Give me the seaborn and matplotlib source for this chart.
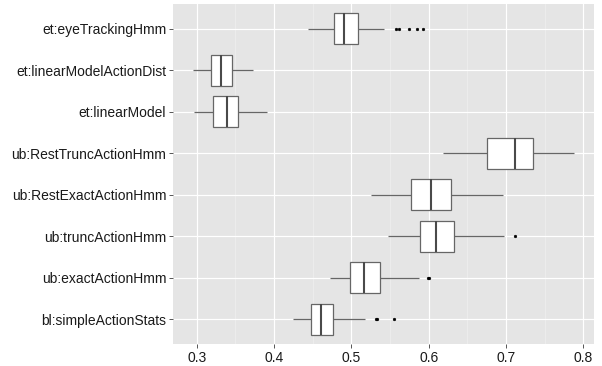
import numpy as np
import pandas as pd
import matplotlib
matplotlib.use("Agg")
import matplotlib.pyplot as plt
import seaborn as sns
from matplotlib.ticker import MultipleLocator

categories = [
    "et:eyeTrackingHmm",
    "et:linearModelActionDist",
    "et:linearModel",
    "ub:RestTruncActionHmm",
    "ub:RestExactActionHmm",
    "ub:truncActionHmm",
    "ub:exactActionHmm",
    "bl:simpleActionStats",
]

eye_tracking_hmm = [0.444, 0.452, 0.458, 0.463, 0.468, 0.473, 0.477, 0.480, 0.483,
                    0.486, 0.488, 0.490, 0.491, 0.494, 0.497, 0.500, 0.503, 0.506,
                    0.508, 0.542, 0.558, 0.562, 0.574, 0.585, 0.592]
linear_model_action_dist = [0.295, 0.318, 0.331, 0.345, 0.373]
linear_model = [0.297, 0.3215, 0.339, 0.354, 0.391]
rest_trunc_action_hmm = [0.6185, 0.676, 0.712, 0.735, 0.788]
rest_exact_action_hmm = [0.525, 0.5775, 0.6025, 0.6285, 0.6965]
trunc_action_hmm = [0.547, 0.570, 0.589, 0.600, 0.609, 0.620, 0.633, 0.697, 0.711]
exact_action_hmm = [0.473, 0.482, 0.491, 0.4986, 0.505, 0.511, 0.516, 0.523, 0.530,
                    0.5366, 0.5875, 0.599, 0.6005]
simple_action_stats = [0.4245, 0.430, 0.437, 0.443, 0.4482, 0.452, 0.455, 0.458, 0.4607,
                       0.464, 0.468, 0.472, 0.4767, 0.5176, 0.5315, 0.533, 0.5555]

samples = [eye_tracking_hmm, linear_model_action_dist, linear_model, rest_trunc_action_hmm,
           rest_exact_action_hmm, trunc_action_hmm, exact_action_hmm, simple_action_stats]

x_ticks = [0.3, 0.4, 0.5, 0.6, 0.7, 0.8]
x_tick_labels = ["0.3", "0.4", "0.5", "0.6", "0.7", "0.8"]

rows = []
for cat, vals in zip(categories, samples):
    for v in vals:
        rows.append({"model": cat, "value": v})
df = pd.DataFrame(rows)

plt.rcParams["font.family"] = ["Liberation Sans", "DejaVu Sans"]

fig = plt.figure(figsize=(6.02, 3.66), dpi=100)
ax = fig.add_axes([0.2879, 0.0601, 0.9867 - 0.2879, 0.989 - 0.0601])
ax.set_facecolor("#E5E5E5")

sns.boxplot(data=df, x="value", y="model", order=categories, orient="h",
            width=0.75, color="white", linecolor="#666666", linewidth=0.9,
            whis=1.5, saturation=1, showcaps=False,
            medianprops=dict(color="#4a4a4a", linewidth=1.5),
            flierprops=dict(marker="o", markersize=2.0, markerfacecolor="black",
                            markeredgecolor="black", markeredgewidth=0.3),
            ax=ax, zorder=3)

ax.set_xlim(0.2697, 0.8138)
ax.set_ylim(7.6, -0.6)
ax.set_xticks(x_ticks)
ax.set_xticklabels(x_tick_labels)
ax.xaxis.set_minor_locator(MultipleLocator(0.05))

ax.set_axisbelow(True)
ax.grid(True, which="major", axis="both", color="white", linewidth=0.85, zorder=0)
ax.grid(True, which="minor", axis="x", color="#F0F0F0", linewidth=0.5, zorder=0)
ax.tick_params(axis="x", which="minor", length=0)
ax.tick_params(axis="both", which="major", length=3, width=0.7, color="#555555",
               labelsize=10, labelcolor="#1a1a1a", pad=2)

for s in ax.spines.values():
    s.set_visible(False)
ax.set_xlabel("")
ax.set_ylabel("")

fig.savefig("out.png", dpi=100)
